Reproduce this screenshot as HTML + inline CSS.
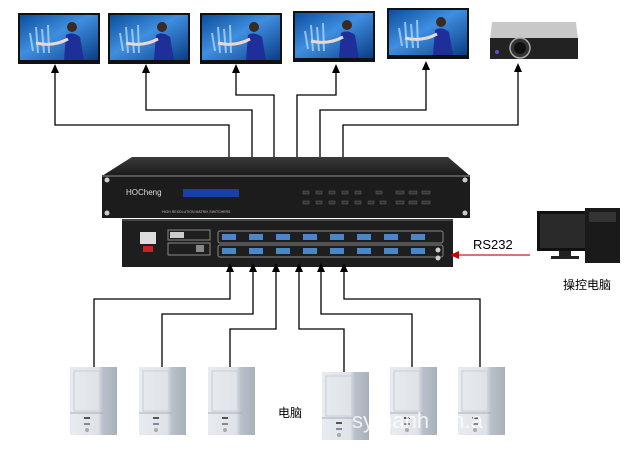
<!DOCTYPE html>
<html><head><meta charset="utf-8"><style>
html,body{margin:0;padding:0;background:#fff;}
svg{display:block;}
text{font-family:"Liberation Sans","Noto Sans CJK SC",sans-serif;}
</style></head><body>
<svg width="642" height="452" viewBox="0 0 642 452" xmlns="http://www.w3.org/2000/svg">
<defs>
<linearGradient id="scr" x1="0" y1="0" x2="1" y2="1">
<stop offset="0" stop-color="#0b4f9c"/><stop offset="0.45" stop-color="#3f8ee0"/><stop offset="1" stop-color="#0a3d86"/>
</linearGradient>
<linearGradient id="pc" x1="0" y1="0" x2="1" y2="0">
<stop offset="0" stop-color="#e8ebef"/><stop offset="0.6" stop-color="#dfe3e8"/><stop offset="0.7" stop-color="#b9c0c9"/><stop offset="1" stop-color="#a8b0ba"/>
</linearGradient>
<linearGradient id="top" x1="0" y1="0" x2="0" y2="1">
<stop offset="0" stop-color="#3a3a3a"/><stop offset="1" stop-color="#1a1a1a"/>
</linearGradient>
<g id="mon">
<rect x="0" y="0" width="82" height="51" fill="#111"/>
<rect x="2" y="2" width="78" height="45" fill="url(#scr)"/>
<path d="M12,20 l3,18 M18,14 l2,26 M24,16 l2,24 M30,12 l1,28" stroke="#bfe0ff" stroke-width="2" opacity="0.7"/>
<circle cx="54" cy="14" r="5" fill="#3a2a22"/>
<path d="M46,47 L48,22 Q54,18 62,24 L66,47 Z" fill="#1f2f9a"/>
<path d="M18,30 Q35,34 50,26" stroke="#e8d8d0" stroke-width="3" fill="none"/>
</g>
<g id="pcbox">
<rect x="0" y="0" width="47" height="68" fill="url(#pc)"/>
<rect x="4" y="4" width="26" height="40" fill="none" stroke="#c8ced6"/>
<line x1="0" y1="46" x2="33" y2="46" stroke="#aab"/>
<rect x="14" y="50" width="6" height="2" fill="#555"/>
<rect x="14" y="56" width="6" height="2" fill="#889"/>
<circle cx="17" cy="63" r="2" fill="#aaa"/>
</g>
</defs>

<use href="#mon" x="18" y="13"/>
<use href="#mon" x="108" y="13"/>
<use href="#mon" x="200" y="13"/>
<use href="#mon" x="293" y="11"/>
<use href="#mon" x="387" y="8"/>
<g>
<path d="M492,22 L576,22 L578,40 L490,40 Z" fill="#c8c8c8"/>
<rect x="490" y="38" width="88" height="21" fill="#222"/>
<circle cx="520" cy="48" r="10" fill="#333" stroke="#aaa" stroke-width="1.5"/>
<circle cx="520" cy="48" r="6" fill="#111"/>
<circle cx="497" cy="52" r="2" fill="#6a4ad0"/>
</g>

<g stroke="#000" stroke-width="1.3" fill="none">
<polyline points="55,70 55,125 229,125 229,158"/>
<polyline points="146,70 146,110 252,110 252,158"/>
<polyline points="236,70 236,95 274,95 274,158"/>
<polyline points="336,70 336,95 297,95 297,158"/>
<polyline points="426,67 426,110 320,110 320,158"/>
<polyline points="518,69 518,125 343,125 343,158"/>
</g>
<g fill="#000">
<path d="M51,73 L55,64 L59,73 Z"/><path d="M142,73 L146,64 L150,73 Z"/>
<path d="M232,73 L236,64 L240,73 Z"/><path d="M332,73 L336,64 L340,73 Z"/>
<path d="M422,70 L426,61 L430,70 Z"/><path d="M514,72 L518,63 L522,72 Z"/>
</g>

<path d="M132,157 L448,157 L470,176 L102,176 Z" fill="url(#top)"/>
<rect x="102" y="175" width="368" height="43" fill="#1c1c1c"/>
<rect x="102" y="175" width="368" height="2" fill="#555"/>
<circle cx="107" cy="180" r="2.5" fill="#ccc"/><circle cx="107" cy="213" r="2.5" fill="#ccc"/>
<circle cx="465" cy="180" r="2.5" fill="#ccc"/><circle cx="465" cy="213" r="2.5" fill="#ccc"/>
<text x="126" y="195" font-size="8" fill="#ddd" font-family="Liberation Serif,serif">HOCheng</text>
<rect x="183" y="189" width="56" height="8" fill="#1b3fa8"/>
<text x="162" y="213" font-size="3.5" fill="#bbb">HIGH RESOLUTION MATRIX SWITCHERS</text>
<g fill="#333" stroke="#666" stroke-width="0.5">
<rect x="303" y="191" width="6" height="3"/><rect x="316" y="191" width="6" height="3"/><rect x="329" y="191" width="6" height="3"/><rect x="342" y="191" width="6" height="3"/><rect x="355" y="191" width="6" height="3"/><rect x="376" y="191" width="6" height="3"/>
<rect x="303" y="201" width="6" height="3"/><rect x="316" y="201" width="6" height="3"/><rect x="329" y="201" width="6" height="3"/><rect x="342" y="201" width="6" height="3"/><rect x="355" y="201" width="6" height="3"/><rect x="368" y="201" width="6" height="3"/><rect x="380" y="201" width="6" height="3"/>
<rect x="396" y="191" width="8" height="3"/><rect x="409" y="191" width="8" height="3"/><rect x="422" y="191" width="8" height="3"/>
<rect x="396" y="201" width="8" height="3"/><rect x="409" y="201" width="8" height="3"/><rect x="422" y="201" width="8" height="3"/>
</g>

<rect x="122" y="219" width="331" height="48" fill="#1e1e1e"/>
<rect x="122" y="219" width="331" height="2" fill="#444"/>
<rect x="140" y="232" width="16" height="12" fill="#ddd"/>
<rect x="143" y="246" width="10" height="6" fill="#c22"/>
<rect x="168" y="230" width="42" height="10" fill="none" stroke="#888"/>
<rect x="170" y="232" width="14" height="6" fill="#ccc"/>
<rect x="168" y="243" width="42" height="12" fill="none" stroke="#888"/>
<rect x="196" y="245" width="8" height="7" fill="#888"/>
<rect x="218" y="231" width="225" height="12" fill="none" stroke="#888" rx="2"/>
<rect x="218" y="245" width="225" height="12" fill="none" stroke="#888" rx="2"/>
<g fill="#4a86c8">
<rect x="222" y="234" width="14" height="6"/><rect x="249" y="234" width="14" height="6"/><rect x="276" y="234" width="14" height="6"/><rect x="303" y="234" width="14" height="6"/><rect x="330" y="234" width="14" height="6"/><rect x="357" y="234" width="14" height="6"/><rect x="384" y="234" width="14" height="6"/><rect x="411" y="234" width="14" height="6"/>
<rect x="222" y="248" width="14" height="6"/><rect x="249" y="248" width="14" height="6"/><rect x="276" y="248" width="14" height="6"/><rect x="303" y="248" width="14" height="6"/><rect x="330" y="248" width="14" height="6"/><rect x="357" y="248" width="14" height="6"/><rect x="384" y="248" width="14" height="6"/><rect x="411" y="248" width="14" height="6"/>
</g>
<circle cx="438" cy="250" r="2.5" fill="#ccc"/><circle cx="438" cy="258" r="2.5" fill="#ccc"/>

<text x="473" y="249" font-size="13" fill="#000">RS232</text>
<line x1="458" y1="255" x2="530" y2="255" stroke="#b22" stroke-width="1.3"/>
<path d="M450,255 L459,251 L459,259 Z" fill="#c00"/>
<rect x="537" y="211" width="58" height="40" fill="#111"/>
<rect x="540" y="214" width="52" height="34" fill="#2a2a2a"/>
<rect x="559" y="251" width="12" height="5" fill="#222"/>
<rect x="551" y="256" width="28" height="3" fill="#222"/>
<rect x="585" y="208" width="35" height="55" fill="#1a1a1a"/>
<rect x="589" y="212" width="27" height="10" fill="#333"/>
<text x="563" y="289" font-size="12" fill="#000">操控电脑</text>

<g stroke="#000" stroke-width="1.3" fill="none">
<polyline points="94,367 94,299 230,299 230,266"/>
<polyline points="162,367 162,314 253,314 253,266"/>
<polyline points="230,367 230,329 276,329 276,266"/>
<polyline points="344,372 344,329 299,329 299,266"/>
<polyline points="412,367 412,314 321,314 321,266"/>
<polyline points="480,367 480,299 344,299 344,266"/>
</g>
<g fill="#000">
<path d="M226,272 L230,263 L234,272 Z"/><path d="M249,272 L253,263 L257,272 Z"/>
<path d="M272,272 L276,263 L280,272 Z"/><path d="M295,272 L299,263 L303,272 Z"/>
<path d="M317,272 L321,263 L325,272 Z"/><path d="M340,272 L344,263 L348,272 Z"/>
</g>

<use href="#pcbox" x="70" y="367"/>
<use href="#pcbox" x="139" y="367"/>
<use href="#pcbox" x="208" y="367"/>
<use href="#pcbox" x="322" y="372"/>
<use href="#pcbox" x="390" y="367"/>
<use href="#pcbox" x="458" y="367"/>
<text x="278" y="417" font-size="12" fill="#000">电脑</text>
<text x="352" y="428" font-size="22" fill="#fff" opacity="0.8">sy hanh .cn.a</text>
</svg>
</body></html>
